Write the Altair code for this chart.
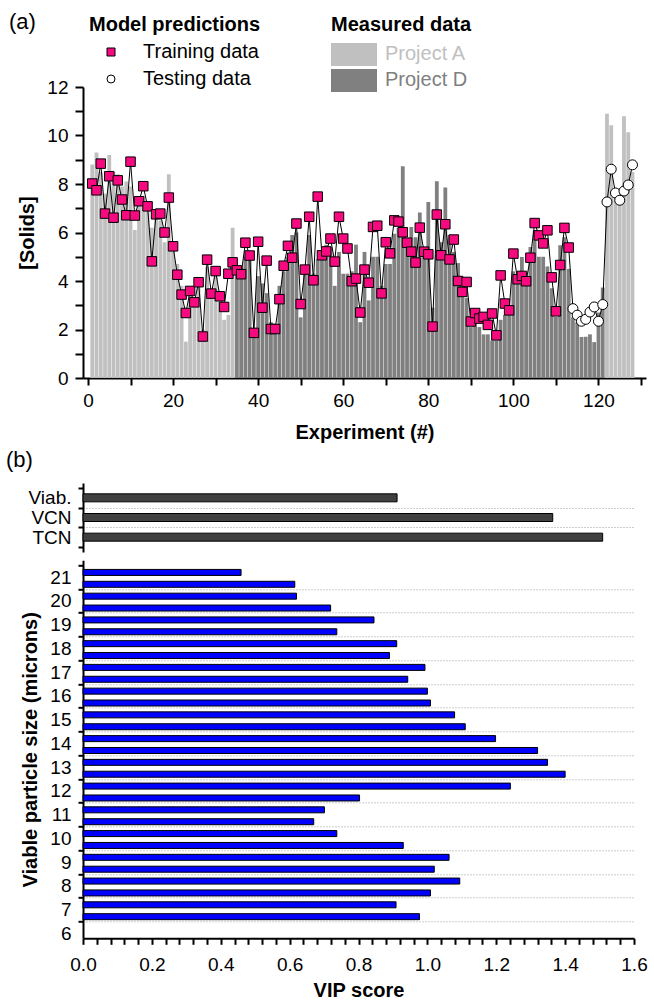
import altair as alt
import pandas as pd

FONT = "Liberation Sans"

# ---------------- panel (a) data ----------------
experiment = list(range(1, 129))
measured = [
    8.8, 9.3, 8.5, 7.6, 9.2, 8.5, 8.4, 7.9, 8.1, 7.9,
    6.1, 7.3, 7.5, 7.0, 6.2, 6.8, 6.5, 5.6, 8.4, 5.4,
    4.7, 3.8, 1.5, 3.5, 3.3, 3.9, 2.0, 4.6, 3.7, 4.2,
    3.4, 2.4, 2.6, 6.2, 4.6, 4.6, 5.0, 4.9, 2.0, 4.2,
    3.9, 3.5, 2.3, 1.9, 3.8, 4.4, 5.0, 5.9, 6.0, 2.5,
    4.6, 5.9, 4.3, 4.9, 5.2, 5.5, 5.4, 3.8, 5.2, 4.3,
    4.3, 4.4, 5.5, 2.3, 5.2, 3.2, 5.0, 5.0, 3.8, 4.7,
    4.7, 5.95, 6.2, 8.73, 5.4, 6.23, 5.8, 6.82, 5.3, 7.26,
    2.9, 8.11, 5.6, 7.86, 5.9, 5.2, 4.74, 3.34, 3.3, 2.1,
    2.4, 2.1, 1.8, 1.8, 1.55, 1.55, 2.4, 2.6, 2.6, 4.4,
    4.2, 4.99, 4.0, 5.4, 6.09, 5.0, 5.0, 4.6, 3.7, 2.52,
    5.47, 5.8, 4.5, 2.5, 2.3, 1.69, 1.7, 1.8, 1.48, 2.7,
    3.73, 10.9, 10.42, 7.6, 7.4, 10.79, 10.13, 8.5,
]
project = ["Project A"] * 34 + ["Project D"] * 87 + ["Project A"] * 7
predicted = [
    8.02, 7.74, 8.84, 6.78, 8.32, 6.61, 8.15, 7.36, 6.71, 8.92,
    6.70, 7.29, 7.91, 7.08, 4.81, 6.75, 6.78, 6.00, 7.44, 5.43,
    4.26, 3.44, 2.68, 3.59, 3.12, 3.95, 1.71, 4.88, 3.48, 4.41,
    3.37, 2.93, 4.30, 4.77, 4.44, 4.28, 5.58, 5.05, 1.86, 5.62,
    2.90, 4.84, 2.02, 2.02, 3.25, 4.63, 5.45, 4.96, 6.37, 3.05,
    4.47, 6.65, 4.03, 7.48, 5.06, 5.22, 5.75, 4.80, 6.65, 5.75,
    5.34, 3.99, 4.10, 2.70, 4.47, 3.93, 6.23, 6.28, 3.49, 5.60,
    5.14, 6.50, 6.45, 6.01, 5.58, 5.21, 4.76, 6.20, 5.21, 5.10,
    2.12, 6.74, 5.06, 6.34, 4.89, 5.71, 4.00, 3.55, 3.96, 2.33,
    2.68, 2.45, 2.52, 2.19, 2.66, 1.76, 4.23, 3.07, 2.79, 5.13,
    4.07, 4.21, 3.99, 4.96, 6.39, 5.88, 5.55, 6.09, 4.15, 2.75,
    4.66, 6.19, 5.38,
    2.86, 2.59, 2.34, 2.42, 2.72, 2.93, 2.34, 3.03,
    7.26, 8.61, 7.63, 7.33, 7.71, 7.96, 8.79,
]
pred_set = ["Training data"] * 113 + ["Testing data"] * 15

x_top_ticks = list(range(0, 131, 10))
y_top_ticks = list(range(0, 13))

legend_heads = ["Model predictions", "Measured data"]
legend_pred = ["Training data", "Testing data"]
legend_meas = ["Project A", "Project D"]
bar_colors = ["#C0C0C0", "#808080"]
train_color = "#F70A80"

# ---------------- panel (b) data ----------------
group_labels = ["Viab.", "VCN", "TCN"]
group_pos = [2, 1, 0]
group_vip = [0.912, 1.364, 1.509]
group_ticks = [-0.5, 0, 0.5, 1, 1.5, 2, 2.5]

size_pos = [21.2, 20.7, 20.2, 19.7, 19.2, 18.7, 18.2, 17.7, 17.2, 16.7,
            16.2, 15.7, 15.2, 14.7, 14.2, 13.7, 13.2, 12.7, 12.2, 11.7,
            11.2, 10.7, 10.2, 9.7, 9.2, 8.7, 8.2, 7.7, 7.2, 6.7]
size_vip = [0.459, 0.615, 0.620, 0.719, 0.845, 0.737, 0.911, 0.890, 0.993, 0.943,
            1.000, 1.009, 1.079, 1.110, 1.198, 1.320, 1.349, 1.400, 1.241, 0.803,
            0.701, 0.670, 0.737, 0.930, 1.063, 1.020, 1.094, 1.009, 0.909, 0.977]
size_ticks = [6 + 0.5 * i for i in range(32)]
vip_ticks = [round(0.04 * i, 2) for i in range(41)]

TOP_W, TOP_H = 563, 291
BOT_W, GRP_H, SIZE_H = 551, 69, 378

# ---------------- panel (a) ----------------
df_top = pd.DataFrame(dict(exp=experiment, measured=measured, project=project,
                           pred=predicted, set=pred_set))

x_top = alt.X("exp:Q", scale=alt.Scale(domain=[0, 130], nice=False, zero=False),
              axis=alt.Axis(values=x_top_ticks,
                            labelExpr="datum.value % 20 == 0 ? format(datum.value, 'd') : ''",
                            title="Experiment (#)", tickSize=7, labelPadding=6,
                            titlePadding=12, labelFlush=False, labelOverlap=False, grid=False))
y_scale_top = alt.Scale(domain=[0, 12], nice=False, zero=False)
y_axis_top = alt.Axis(values=y_top_ticks,
                      labelExpr="datum.value % 2 == 0 ? format(datum.value, 'd') : ''",
                      title="[Solids]", tickSize=8, labelPadding=7, titlePadding=9,
                      labelOverlap=False, grid=False)

bars = alt.Chart(df_top).mark_bar(orient="vertical", size=3.8).encode(
    x=x_top,
    y=alt.Y("measured:Q", scale=y_scale_top, axis=y_axis_top, stack=None),
    color=alt.Color("project:N", scale=alt.Scale(domain=legend_meas, range=bar_colors), legend=None),
)
line = alt.Chart(df_top).mark_line(color="black", strokeWidth=1).encode(
    x=x_top, y=alt.Y("pred:Q", scale=y_scale_top, axis=y_axis_top))
train = alt.Chart(df_top).transform_filter(alt.datum.set == legend_pred[0]).mark_square(
    size=90, fill=train_color, stroke="black", strokeWidth=1, opacity=1, filled=True).encode(
    x=x_top, y=alt.Y("pred:Q", scale=y_scale_top, axis=y_axis_top))
test = alt.Chart(df_top).transform_filter(alt.datum.set == legend_pred[1]).mark_point(
    shape="circle", size=100, fill="white", stroke="black", strokeWidth=1, opacity=1, filled=True).encode(
    x=x_top, y=alt.Y("pred:Q", scale=y_scale_top, axis=y_axis_top))


def txt(s, x, y, size=20, weight="normal", color="black"):
    return alt.Chart(pd.DataFrame({"t": [s]})).mark_text(
        font=FONT, fontSize=size, fontWeight=weight, color=color, align="left", baseline="middle"
    ).encode(x=alt.value(x), y=alt.value(y), text="t:N")


one = pd.DataFrame({"a": [0]})
leg = [
    txt("(a)", -74, -65, size=22),
    txt(legend_heads[0], 6, -62, weight="bold"),
    txt(legend_pred[0], 60, -35),
    txt(legend_pred[1], 60, -8),
    txt(legend_heads[1], 248, -62, weight="bold"),
    txt(legend_meas[0], 302, -33, color=bar_colors[0]),
    txt(legend_meas[1], 302, -7, color=bar_colors[1]),
    alt.Chart(one).mark_square(size=64, fill=train_color, stroke="black", strokeWidth=1,
                               opacity=1, filled=True).encode(x=alt.value(28), y=alt.value(-35)),
    alt.Chart(one).mark_point(shape="circle", size=64, fill="white", stroke="black", strokeWidth=1,
                              opacity=1, filled=True).encode(x=alt.value(28), y=alt.value(-8)),
    alt.Chart(one).mark_rect(color=bar_colors[0]).encode(
        x=alt.value(248), x2=alt.value(294), y=alt.value(-44), y2=alt.value(-21)),
    alt.Chart(one).mark_rect(color=bar_colors[1]).encode(
        x=alt.value(248), x2=alt.value(294), y=alt.value(-18), y2=alt.value(5)),
    # invisible anchor at the page's top-left corner
    alt.Chart(one).mark_rule(strokeOpacity=0).encode(
        x=alt.value(-82.7), x2=alt.value(-82), y=alt.value(-86.7)),
]

top = alt.layer(bars, line, train, test, *leg).properties(width=TOP_W, height=TOP_H)

# ---------------- panel (b) upper group ----------------
df_grp = pd.DataFrame(dict(pos=group_pos, label=group_labels, vip=group_vip))
grp_label_expr = " : ".join(f"datum.value == {p} ? '{l}'" for p, l in zip(group_pos, group_labels)) + " : ''"
half_test = "datum.value % 1 != 0"

upper_bars = alt.Chart(df_grp).mark_bar(orient="horizontal", size=8, fill="#404040",
                                         stroke="black", strokeWidth=1).encode(
    x=alt.X("vip:Q", scale=alt.Scale(domain=[0, 1.6], nice=False), axis=None),
    y=alt.Y("pos:Q", scale=alt.Scale(domain=[-0.5, 2.5], nice=False, zero=False),
            axis=alt.Axis(values=group_ticks, labelExpr=grp_label_expr, title=None,
                          tickSize=5, labelPadding=7, labelOverlap=False,
                          tickOpacity={"condition": {"test": half_test, "value": 1}, "value": 0},
                          grid=True, gridDash=[1, 2], gridColor="#9A9A9A", gridWidth=1,
                          gridOpacity={"condition": {"test": "datum.value > -0.4 && datum.value < 2.4 && " + half_test,
                                                     "value": 1}, "value": 0})),
)
b_label = txt("(b)", -77, -23, size=22)
upper = alt.layer(upper_bars, b_label).properties(width=BOT_W, height=GRP_H)

# ---------------- panel (b) lower group ----------------
df_size = pd.DataFrame(dict(size=size_pos, vip=size_vip))
major_test = "abs(datum.value * 5 - round(datum.value * 5)) < 0.001"
lower = alt.Chart(df_size).mark_bar(orient="horizontal", size=6, fill="#0000FF",
                                     stroke="black", strokeWidth=1).encode(
    x=alt.X("vip:Q", scale=alt.Scale(domain=[0, 1.6], nice=False),
            axis=alt.Axis(values=vip_ticks,
                          labelExpr=major_test + " ? format(datum.value, '.1f') : ''",
                          title="VIP score", tickSize=6, labelPadding=11, titlePadding=6,
                          labelFlush=False, labelOverlap=False, grid=False)),
    y=alt.Y("size:Q", scale=alt.Scale(domain=[6, 21.5], nice=False, zero=False),
            axis=alt.Axis(values=size_ticks,
                          labelExpr="datum.value % 1 == 0 ? format(datum.value, 'd') : ''",
                          title="Viable particle size (microns)", tickSize=5, labelPadding=7,
                          titlePadding=9, labelOverlap=False,
                          tickOpacity={"condition": {"test": half_test, "value": 1}, "value": 0},
                          grid=True, gridDash=[1, 2], gridColor="#9A9A9A", gridWidth=1,
                          gridOpacity={"condition": {"test": half_test + " && datum.value < 21.4", "value": 1},
                                       "value": 0})),
).properties(width=BOT_W, height=SIZE_H)

bottom = alt.vconcat(upper, lower, spacing=8.3, bounds="flush").resolve_scale(
    x="independent", y="independent")

chart = alt.vconcat(top, bottom, spacing=105, bounds="flush").resolve_scale(
    x="independent", y="independent", color="independent"
).properties(padding=0, background="white").configure_view(stroke=None).configure_axis(
    labelFont=FONT, labelFontSize=19, labelColor="black",
    titleFont=FONT, titleFontSize=20, titleFontWeight="bold", titleColor="black",
    domainColor="black", domainWidth=2, tickColor="black", tickWidth=2,
)

chart.save("out.html", embed_options={"renderer": "svg", "actions": False})
